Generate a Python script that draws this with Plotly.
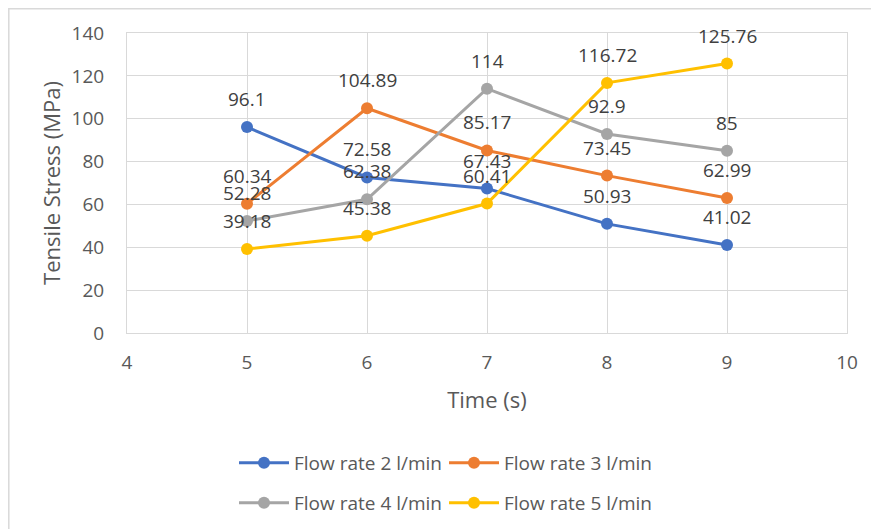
import plotly.graph_objects as go

time_s = [5, 6, 7, 8, 9]
flow2 = [96.1, 72.58, 67.43, 50.93, 41.02]
flow3 = [60.34, 104.89, 85.17, 73.45, 62.99]
flow4 = [52.28, 62.38, 114, 92.9, 85]
flow5 = [39.18, 45.38, 60.41, 116.72, 125.76]
series_names = ["Flow rate 2 l/min", "Flow rate 3 l/min", "Flow rate 4 l/min", "Flow rate 5 l/min"]
colors = ["#4472C4", "#ED7D31", "#A5A5A5", "#FFC000"]
x_ticks = [4, 5, 6, 7, 8, 9, 10]
y_ticks = [0, 20, 40, 60, 80, 100, 120, 140]

FONT = "Open Sans"
FS = 19
FT = 22
series = [flow2, flow3, flow4, flow5]
legend_ids = ["legend", "legend2", "legend3", "legend4"]

# figure sits inside the page body (8px default margin)
W, H = 871, 521
L, T, PW, PH = 119, 25, 720, 300

# legend entry anchor positions (figure px): two entries per row
leg_px = [(226, 455), (436, 455), (226, 495), (436, 495)]

fig = go.Figure()
annotations = []
for name, vals, col, lg in zip(series_names, series, colors, legend_ids):
    fig.add_trace(go.Scatter(
        x=time_s, y=vals, name=name, mode="lines+markers",
        line=dict(color=col, width=3),
        marker=dict(color=col, size=12),
        legend=lg,
    ))
    for xv, yv in zip(time_s, vals):
        annotations.append(dict(
            x=xv, y=yv, xref="x", yref="y", text=f"{yv:g}", showarrow=False,
            yshift=28, font=dict(family=FONT, size=FS, color="#404040"),
        ))

axis_common = dict(
    showgrid=True, gridcolor="#D9D9D9", gridwidth=1,
    showline=True, linecolor="#D9D9D9", mirror=True, zeroline=False,
    ticks="outside", tickcolor="rgba(0,0,0,0)",
    tickfont=dict(family=FONT, size=FS, color="#595959"),
    automargin=False,
)

legend_layout = {}
for lg, (px, py) in zip(legend_ids, leg_px):
    legend_layout[lg] = dict(
        orientation="h", xanchor="left", yanchor="middle",
        xref="container", yref="container",
        x=px / W, y=1 - py / H, itemwidth=50,
        font=dict(family=FONT, size=FS, color="#595959"),
        bgcolor="rgba(0,0,0,0)")

fig.update_layout(
    width=W, height=H, autosize=False,
    margin=dict(l=L, r=W - L - PW, t=T, b=H - T - PH, autoexpand=False),
    paper_bgcolor="white", plot_bgcolor="white",
    font=dict(family=FONT, size=FS, color="#595959"),
    xaxis=dict(range=[4, 10], tickvals=x_ticks, ticklen=12,
               title=dict(text="Time (s)", standoff=18,
                          font=dict(family=FONT, size=FT, color="#595959")),
               **axis_common),
    yaxis=dict(range=[0, 140], tickvals=y_ticks, ticklen=18,
               title=dict(text="Tensile Stress (MPa)", standoff=4,
                          font=dict(family=FONT, size=FT, color="#595959")),
               **axis_common),
    annotations=annotations,
    shapes=[dict(type="rect", xref="paper", yref="paper",
                 x0=(0.8 - L) / PW, x1=(890 - L) / PW,
                 y0=(T + PH - 540) / PH, y1=(T + PH - 0.8) / PH,
                 line=dict(color="#D9D9D9", width=1.5), fillcolor="rgba(0,0,0,0)", layer="below")],
    showlegend=True,
    **legend_layout,
)

fig.write_html("out.html")
